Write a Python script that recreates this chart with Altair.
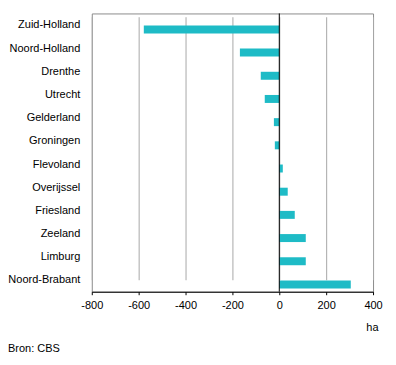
import altair as alt
import pandas as pd

provinces = ["Zuid-Holland", "Noord-Holland", "Drenthe", "Utrecht", "Gelderland",
             "Groningen", "Flevoland", "Overijssel", "Friesland", "Zeeland",
             "Limburg", "Noord-Brabant"]
values = [-578, -168, -79, -62, -23, -19, 15, 36, 66, 113, 113, 305]
x_ticks = [-800, -600, -400, -200, 0, 200, 400]

df = pd.DataFrame({"provincie": provinces, "ha": values})
FONT = "Liberation Sans"

bars = alt.Chart(df).mark_bar(color="#1EBBC6").encode(
    x=alt.X("ha:Q",
            scale=alt.Scale(domain=[-800, 400], nice=False),
            axis=alt.Axis(values=x_ticks, title="ha", titleAnchor="end",
                          titleAlign="right", titleBaseline="middle",
                          titleX=287, titleY=36, titleFontWeight="normal",
                          titleFontSize=11, titleFont=FONT, titleColor="black",
                          labelFont=FONT, labelFontSize=11, labelColor="black",
                          labelExpr="datum.value < 0 ? '-' + abs(datum.value) : '' + datum.value",
                          labelPadding=5, tickSize=3, tickColor="black",
                          domainColor="black", grid=True, gridColor="#a8a8a8",
                          labelFlush=False)),
    y=alt.Y("provincie:N", sort=provinces,
            scale=alt.Scale(range=[12, 275.7], paddingInner=0.656, paddingOuter=0),
            axis=alt.Axis(title=None, domain=False, ticks=False, labelPadding=12,
                          labelOffset=-4,
                          labelFont=FONT, labelFontSize=11, labelColor="black")),
)

zero = alt.Chart(pd.DataFrame({"z": [0]})).mark_rule(color="black", strokeWidth=1).encode(
    x="z:Q"
)

source = alt.Chart(pd.DataFrame({"t": ["Bron: CBS"]})).mark_text(
    align="left", baseline="middle", font=FONT, fontSize=11, color="black"
).encode(x=alt.value(-84), y=alt.value(336), text="t:N")

chart = alt.layer(bars, zero, source).properties(
    width=282, height=279,
    autosize=alt.AutoSizeParams(type="none"),
    padding={"left": 84, "top": 5, "right": 15, "bottom": 65},
).configure_view(stroke="#8c8c8c", strokeWidth=1)

chart.save("out.html", embed_options={"renderer": "svg", "actions": False})
